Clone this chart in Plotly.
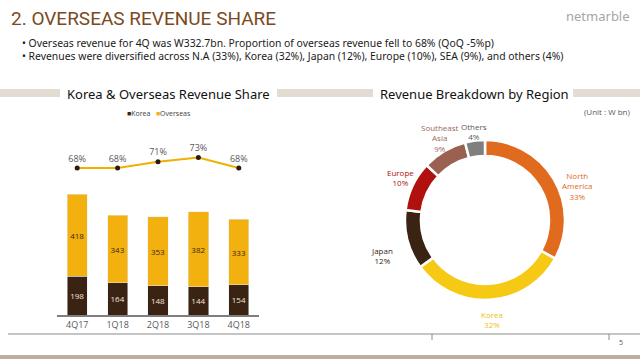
import plotly.graph_objects as go

W, H = 640, 359

# ---- data ----
quarters = ["4Q17", "1Q18", "2Q18", "3Q18", "4Q18"]
korea_rev = [198, 164, 148, 144, 154]
overseas_rev = [418, 343, 353, 382, 333]
overseas_share = [68, 68, 71, 73, 68]
series_names = ["Korea", "Overseas"]

regions = ["North America", "Korea", "Japan", "Europe", "Southeast Asia", "Others"]
region_share = [33, 32, 12, 10, 9, 4]
region_label_text = ["North<br>America<br>33%", "Korea<br>32%", "Japan<br>12%",
                     "Europe<br>10%", "Southeast<br>Asia<br>9%", "Others<br>4%"]

# ---- styles ----
KOREA_C = "#3B2314"
OVERSEAS_C = "#F2B10E"
region_colors = ["#E06A1E", "#F6C915", "#3B2314", "#B0100E", "#9B6150", "#7F7F7F"]
label_colors = ["#E06A1E", "#F0C010", "#3B2314", "#B0100E", "#9B6A5A", "#595959"]
label_pos = [(577, 186), (492, 319), (382, 255), (400, 177), (440, 138), (474, 131)]

def px(x):
    return x / W

def py(y):
    return 1 - y / H

fig = go.Figure()

fig.add_trace(go.Bar(
    x=quarters, y=korea_rev, name=series_names[0], marker_color=KOREA_C,
    text=korea_rev, textposition="inside", insidetextanchor="middle",
    textfont=dict(color="#F2E6DA", size=8, family="Open Sans"),
    xaxis="x", yaxis="y", showlegend=False))
fig.add_trace(go.Bar(
    x=quarters, y=overseas_rev, name=series_names[1], marker_color=OVERSEAS_C,
    text=overseas_rev, textposition="inside", insidetextanchor="middle",
    textfont=dict(color="#3B2314", size=8, family="Open Sans"),
    xaxis="x", yaxis="y", showlegend=False))
fig.add_trace(go.Scatter(
    x=quarters, y=overseas_share, mode="lines+markers+text",
    text=[f"{v}%" for v in overseas_share], textposition="top center",
    textfont=dict(color="#595959", size=9, family="Open Sans"),
    line=dict(color="#F0B000", width=2),
    marker=dict(color="#2B1A0E", size=5),
    showlegend=False, xaxis="x", yaxis="y2", cliponaxis=False))

fig.add_trace(go.Pie(
    labels=regions, values=region_share, hole=0.8, sort=False,
    direction="clockwise", rotation=0,
    marker=dict(colors=region_colors, line=dict(color="white", width=2.5)),
    textinfo="none", hoverinfo="label+percent", showlegend=False,
    domain=dict(x=[px(405), px(565)], y=[py(300), py(140)])))

annotations = []
for txt, (x, y), c in zip(region_label_text, label_pos, label_colors):
    annotations.append(dict(text=txt, x=px(x), y=py(y), xanchor="center",
                            font=dict(color=c, size=8, family="Open Sans"),
                            align="center"))

legend_text = (f"<span style='color:{KOREA_C}'>■</span>{series_names[0]}   "
               f"<span style='color:{OVERSEAS_C}'>■</span>{series_names[1]}")

annotations += [
    dict(text="2. OVERSEAS REVENUE SHARE", x=px(9), y=py(18), xanchor="left",
         font=dict(color="#7A4A22", size=19, family="Roboto")),
    dict(text="netmarble", x=px(632), y=py(16), xanchor="right",
         font=dict(color="#A6A6A6", size=13, family="Noto Sans")),
    dict(text="• Overseas revenue for 4Q was W332.7bn. Proportion of overseas revenue fell to 68% (QoQ -5%p)",
         x=px(20), y=py(43), xanchor="left", font=dict(color="#1a1a1a", size=10.4, family="Noto Sans")),
    dict(text="• Revenues were diversified across N.A (33%), Korea (32%), Japan (12%), Europe (10%), SEA (9%), and others (4%)",
         x=px(20), y=py(56), xanchor="left", font=dict(color="#1a1a1a", size=10.4, family="Noto Sans")),
    dict(text="Korea & Overseas Revenue Share", x=px(168), y=py(94), xanchor="center",
         font=dict(color="#111111", size=13, family="Noto Sans")),
    dict(text="Revenue Breakdown by Region", x=px(474), y=py(94), xanchor="center",
         font=dict(color="#111111", size=13, family="Noto Sans")),
    dict(text="(Unit : W bn)", x=px(632), y=py(111), xanchor="right",
         font=dict(color="#595959", size=8, family="Open Sans")),
    dict(text="5", x=px(621), y=py(342), xanchor="center",
         font=dict(color="#595959", size=7, family="Open Sans")),
    dict(text=legend_text, x=px(159), y=py(114), xanchor="center",
         font=dict(color="#404040", size=7, family="Open Sans")),
]
for a in annotations:
    a.setdefault("xref", "paper")
    a.setdefault("yref", "paper")
    a.setdefault("showarrow", False)
    a.setdefault("yanchor", "middle")

shapes = []
band = "#E3DCD2"
for x0, x1 in [(0, 60), (277, 373), (573, 640)]:
    shapes.append(dict(type="rect", xref="paper", yref="paper", x0=px(x0), x1=px(x1),
                       y0=py(97), y1=py(89), fillcolor=band, line_width=0, layer="below"))
shapes.append(dict(type="rect", xref="paper", yref="paper", x0=0, x1=1,
                   y0=py(359), y1=py(355), fillcolor="#BCAE9F", line_width=0, layer="below"))
shapes.append(dict(type="line", xref="paper", yref="paper", x0=px(8), x1=1,
                   y0=py(334), y1=py(334), line=dict(color="#8C8C8C", width=1.2)))
for tx in [432, 609]:
    shapes.append(dict(type="line", xref="paper", yref="paper", x0=px(tx), x1=px(tx),
                       y0=py(334), y1=py(340), line=dict(color="#8C8C8C", width=1)))

fig.update_layout(
    width=W, height=H, margin=dict(l=0, r=0, t=0, b=0),
    paper_bgcolor="white", plot_bgcolor="rgba(0,0,0,0)",
    barmode="stack", bargap=0.5, showlegend=False,
    xaxis=dict(domain=[px(57), px(259)], showgrid=False, showline=True,
               linecolor="#7F7F7F", linewidth=1.5, ticks="",
               tickfont=dict(color="#595959", size=9, family="Open Sans"), anchor="y"),
    yaxis=dict(domain=[py(315), py(177.5)], range=[0, 700], visible=False, showgrid=False),
    yaxis2=dict(domain=[py(184.8), py(142.8)], range=[60, 80], visible=False,
                showgrid=False, anchor="x"),
    annotations=annotations, shapes=shapes,
    uniformtext=dict(minsize=6, mode="show"),
)

fig.write_html("out.html", config={"displayModeBar": False},
               post_script="document.body.style.margin='0';document.body.style.overflow='hidden';")
